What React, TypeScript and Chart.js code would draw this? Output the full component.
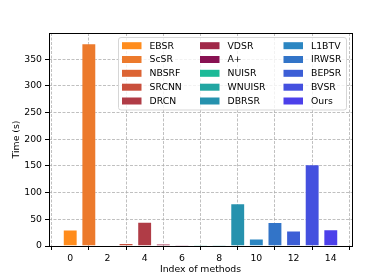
import React, { useEffect, useRef } from "react";
import { Chart, registerables } from "chart.js";

Chart.register(...registerables);

const methods = [
  "EBSR", "ScSR", "NBSRF", "SRCNN", "DRCN", "VDSR", "A+", "NUISR",
  "WNUISR", "DBRSR", "L1BTV", "IRWSR", "BEPSR", "BVSR", "Ours",
];
const indices = [0, 1, 2, 3, 4, 5, 6, 7, 8, 9, 10, 11, 12, 13, 14];
const times = [31, 380, 1.3, 5.8, 45.5, 4.5, 1.8, 1.8, 1.8, 80, 14, 45, 29, 153, 31.5];
const colors = [
  "#ff8c1c", "#ec7a2c", "#dc6434", "#c94f3c", "#b03c46", "#a02848", "#881252",
  "#1cba98", "#22a6a2", "#2692ae", "#2b86c2", "#3274c8", "#3c5ed6", "#4450df", "#4c40ea",
];
const xTicks = [0, 2, 4, 6, 8, 10, 12, 14];
const yTicks = [0, 50, 100, 150, 200, 250, 300, 350];

const FONT = "DejaVu Sans";
const FS = 9.3;

const framePlugin = {
  id: "frame",
  afterDraw(chart: any) {
    const { ctx, chartArea } = chart;
    const { left, right, top, bottom } = chartArea;
    ctx.save();
    // legend
    const lx = 118.5, ly = 37.5, lw = 228, lh = 72.5, r = 2.5;
    ctx.beginPath();
    ctx.moveTo(lx + r, ly);
    ctx.lineTo(lx + lw - r, ly);
    ctx.quadraticCurveTo(lx + lw, ly, lx + lw, ly + r);
    ctx.lineTo(lx + lw, ly + lh - r);
    ctx.quadraticCurveTo(lx + lw, ly + lh, lx + lw - r, ly + lh);
    ctx.lineTo(lx + r, ly + lh);
    ctx.quadraticCurveTo(lx, ly + lh, lx, ly + lh - r);
    ctx.lineTo(lx, ly + r);
    ctx.quadraticCurveTo(lx, ly, lx + r, ly);
    ctx.closePath();
    ctx.fillStyle = "rgba(255,255,255,0.8)";
    ctx.fill();
    ctx.strokeStyle = "#d6d6d6";
    ctx.lineWidth = 1;
    ctx.stroke();
    const colX = [122, 200, 283.5];
    const rowY = [45.7, 59.5, 73.3, 87.2, 101];
    ctx.font = `${FS}px '${FONT}'`;
    ctx.textBaseline = "middle";
    ctx.textAlign = "left";
    methods.forEach((m, i) => {
      const c = Math.floor(i / 5);
      const rr = i % 5;
      const x = colX[c];
      const y = rowY[rr];
      ctx.fillStyle = colors[i];
      ctx.fillRect(x, y - 3.5, 19.5, 7);
      ctx.fillStyle = "#000";
      ctx.fillText(m, x + 27.5, y + 0.5);
    });
    // frame
    ctx.strokeStyle = "#000";
    ctx.lineWidth = 1;
    ctx.setLineDash([]);
    ctx.strokeRect(Math.round(left) + 0.5, Math.round(top) + 0.5, Math.round(right - left), Math.round(bottom - top));
    ctx.restore();
  },
};

const gridOpts = {
  color: "#b0b0b0",
  lineWidth: 0.8,
  tickColor: "#000",
  tickLength: 4,
  tickBorderDash: [],
  tickWidth: 1,
};

export default function App() {
  const ref = useRef<HTMLCanvasElement>(null);
  useEffect(() => {
    document.body.style.margin = "0";
    const canvas = ref.current!;
    const chart = new Chart(canvas, {
      type: "bar",
      data: {
        datasets: [
          {
            data: indices.map((x, i) => ({ x, y: times[i] })),
            backgroundColor: colors,
            borderColor: "rgba(255,255,255,0.3)",
            borderWidth: 1,
            barPercentage: 0.8,
            categoryPercentage: 1,
          },
        ],
      },
      options: {
        animation: false,
        responsive: false,
        devicePixelRatio: 1,
        layout: { padding: { top: 33, right: 38, left: 0, bottom: 0 } },
        plugins: { legend: { display: false }, tooltip: { enabled: false } },
        scales: {
          x: {
            type: "linear",
            offset: false,
            min: -1.14,
            max: 15.14,
            afterFit: (s: any) => { s.height = 31; },
            afterBuildTicks: (s: any) => { s.ticks = xTicks.map((v) => ({ value: v })); },
            ticks: { color: "#000", font: { family: FONT, size: FS }, padding: 3, maxRotation: 0 },
            grid: { ...gridOpts },
            border: { display: false, dash: [3, 1.5] },
            title: { display: true, text: "Index of methods", color: "#000", font: { family: FONT, size: FS }, padding: { top: 0, bottom: 1.4 } },
          },
          y: {
            type: "linear",
            min: 0,
            max: 399,
            afterFit: (s: any) => { s.width = 49; },
            afterBuildTicks: (s: any) => { s.ticks = yTicks.map((v) => ({ value: v })); },
            ticks: { color: "#000", font: { family: FONT, size: FS }, padding: 3 },
            grid: { ...gridOpts },
            border: { display: false, dash: [3, 1.5] },
            title: { display: true, text: "Time (s)", color: "#000", font: { family: FONT, size: FS }, padding: { top: 11.4, bottom: 0 } },
          },
        },
      } as any,
      plugins: [framePlugin],
    });
    return () => chart.destroy();
  }, []);
  return <canvas ref={ref} width={390} height={277} style={{ display: "block", width: 390, height: 277 }} />;
}
